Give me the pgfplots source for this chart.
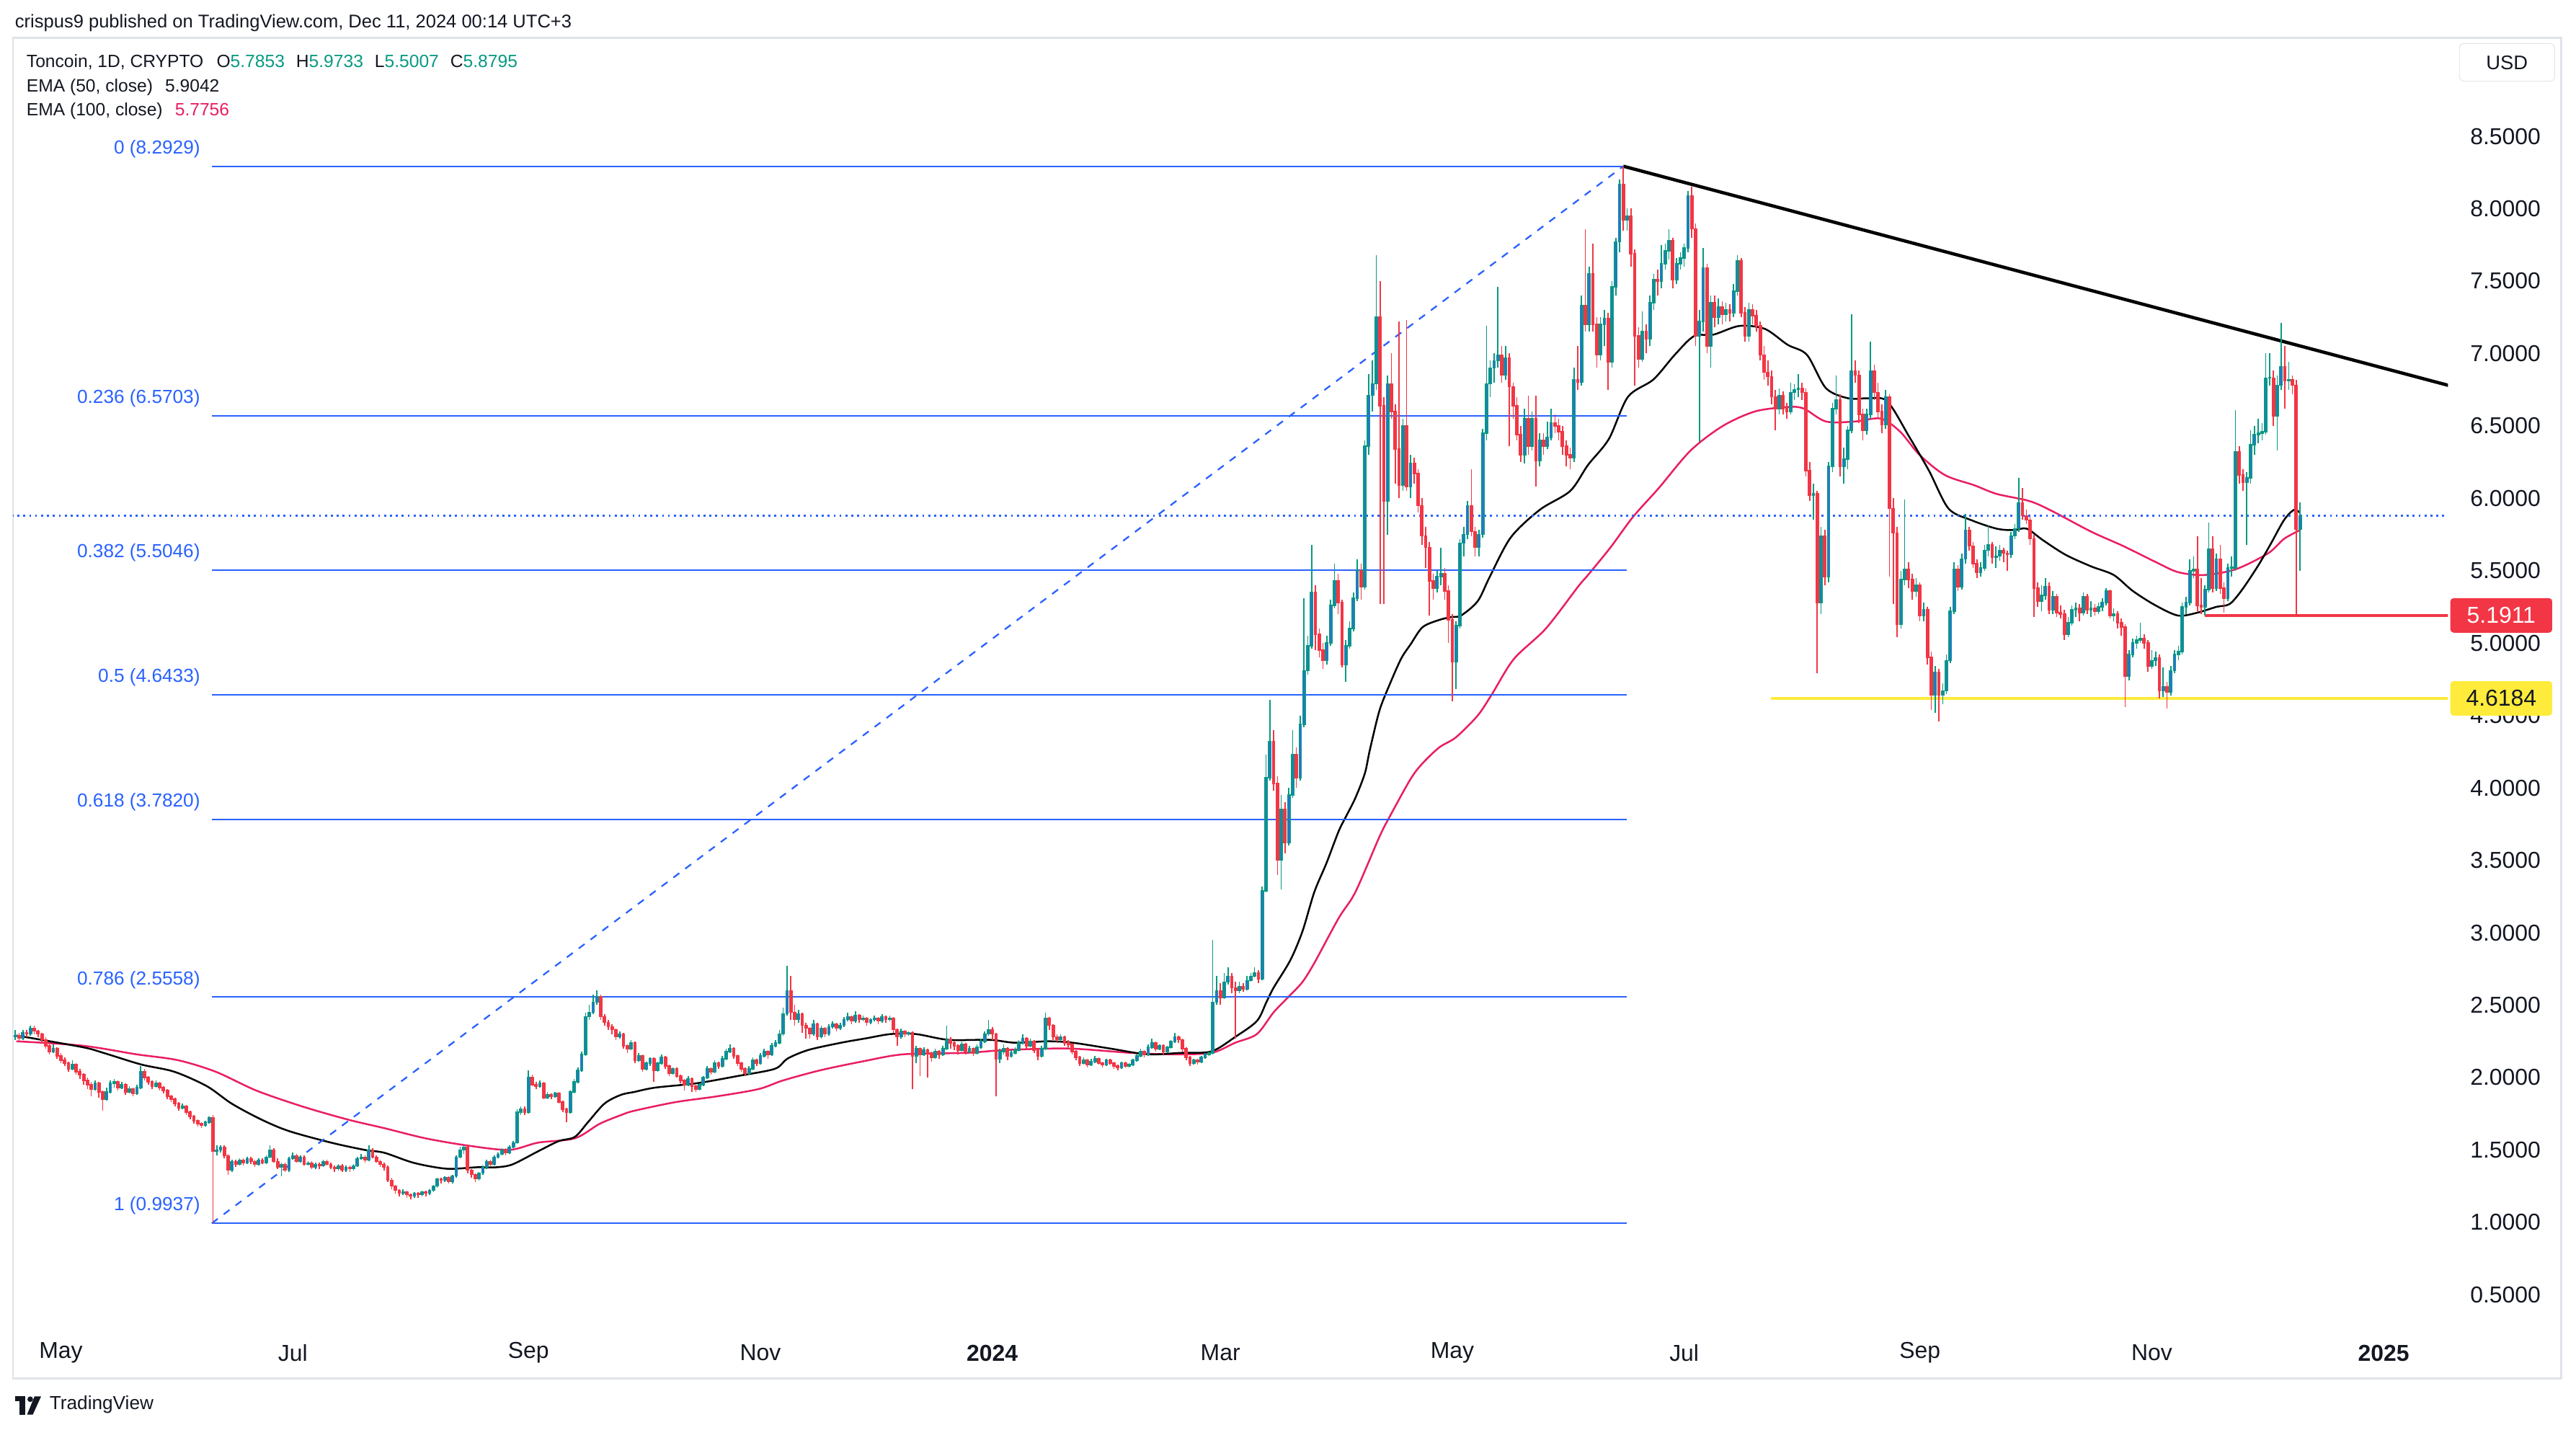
\documentclass[border=0pt]{standalone}
\usepackage{fontspec}
\setmainfont{Liberation Sans}
\usepackage{pgfplots}
\pgfplotsset{compat=1.18}
\usepackage{pgfplotstable}

\definecolor{tvup}{HTML}{089981}
\definecolor{tvupbody}{HTML}{2A6FDB}
\definecolor{tvdown}{HTML}{F23645}
\definecolor{tvblue}{HTML}{2962FF}
\definecolor{ema100}{HTML}{E91E63}
\definecolor{tvtext}{HTML}{131722}
\definecolor{tvframe}{HTML}{E0E3EB}
\definecolor{tvyellow}{HTML}{FFEB3B}

% one candle drawn at its low; 88.143pt = one price unit on this axis
\pgfdeclareplotmark{candle}{%
  \pgfmathsetmacro\cwk{(\kh-\kl)*88.143}%
  \pgfmathsetmacro\cbb{(min(\ko,\kc)-\kl)*88.143}%
  \pgfmathsetmacro\cbh{max(abs(\kc-\ko)*88.143,0.5)}%
  \pgfpathmoveto{\pgfpoint{0pt}{0pt}}%
  \pgfpathlineto{\pgfpoint{0pt}{\cwk pt}}%
  \pgfusepathqstroke
  \pgfpathrectangle{\pgfpoint{-0.7pt}{\cbb pt}}{\pgfpoint{1.4pt}{\cbh pt}}%
  \pgfusepathqfillstroke
}
\pgfplotsset{candles/.style={only marks, mark=candle, forget plot,
  visualization depends on={\thisrow{o} \as \ko},
  visualization depends on={\thisrow{h} \as \kh},
  visualization depends on={\thisrow{l} \as \kl},
  visualization depends on={\thisrow{c} \as \kc}}}

% daily candles, d = days since 2024-01-01
\pgfplotstableread{
d o h l c
-257 2.28 2.33 2.26 2.29
-256 2.29 2.31 2.25 2.27
-255 2.27 2.33 2.26 2.31
-254 2.31 2.33 2.28 2.30
-253 2.30 2.36 2.29 2.34
-252 2.34 2.36 2.30 2.32
-251 2.32 2.33 2.28 2.30
-250 2.30 2.31 2.24 2.26
-249 2.26 2.28 2.20 2.22
-248 2.22 2.24 2.16 2.18
-247 2.18 2.23 2.17 2.20
-246 2.20 2.21 2.13 2.15
-245 2.15 2.17 2.10 2.12
-244 2.12 2.14 2.08 2.10
-243 2.10 2.11 2.04 2.06
-242 2.06 2.12 2.05 2.09
-241 2.09 2.10 2.02 2.04
-240 2.04 2.06 1.99 2.02
-239 2.02 2.03 1.95 1.98
-238 1.98 2.00 1.92 1.95
-237 1.95 1.97 1.87 1.92
-236 1.92 1.98 1.91 1.96
-235 1.96 1.97 1.86 1.90
-234 1.90 1.91 1.77 1.85
-233 1.85 1.93 1.84 1.90
-232 1.90 1.98 1.89 1.96
-231 1.96 1.99 1.93 1.97
-230 1.97 1.98 1.91 1.93
-229 1.93 1.97 1.92 1.95
-228 1.95 1.96 1.88 1.90
-227 1.90 1.94 1.89 1.92
-226 1.92 1.93 1.87 1.89
-225 1.89 1.95 1.88 1.93
-224 1.93 2.08 1.92 2.04
-223 2.04 2.06 1.98 2.00
-222 2.00 2.01 1.95 1.97
-221 1.97 1.98 1.92 1.94
-220 1.94 1.98 1.93 1.96
-219 1.96 1.97 1.91 1.93
-218 1.93 1.94 1.89 1.91
-217 1.91 1.92 1.85 1.87
-216 1.87 1.88 1.83 1.85
-215 1.85 1.86 1.80 1.82
-214 1.82 1.83 1.77 1.79
-213 1.79 1.82 1.78 1.80
-212 1.80 1.81 1.74 1.76
-211 1.76 1.77 1.71 1.73
-210 1.73 1.74 1.68 1.70
-209 1.70 1.71 1.66 1.68
-208 1.68 1.69 1.65 1.67
-207 1.67 1.70 1.66 1.69
-206 1.69 1.73 1.68 1.72
-205 1.72 1.74 0.9937 1.49
-204 1.49 1.53 1.46 1.50
-203 1.50 1.53 1.48 1.52
-202 1.52 1.53 1.44 1.46
-201 1.46 1.47 1.33 1.36
-200 1.36 1.43 1.35 1.42
-199 1.42 1.43 1.38 1.40
-198 1.40 1.44 1.39 1.43
-197 1.43 1.44 1.39 1.41
-196 1.41 1.45 1.40 1.44
-195 1.44 1.45 1.40 1.42
-194 1.42 1.43 1.38 1.40
-193 1.40 1.44 1.39 1.43
-192 1.43 1.44 1.40 1.41
-191 1.41 1.46 1.40 1.45
-190 1.45 1.53 1.44 1.50
-189 1.50 1.51 1.41 1.42
-188 1.42 1.44 1.37 1.38
-187 1.38 1.41 1.32 1.40
-186 1.40 1.41 1.35 1.36
-185 1.36 1.45 1.35 1.44
-184 1.44 1.48 1.43 1.46
-183 1.46 1.47 1.41 1.42
-182 1.42 1.46 1.41 1.45
-181 1.45 1.46 1.39 1.40
-180 1.40 1.42 1.39 1.41
-179 1.41 1.42 1.37 1.38
-178 1.38 1.41 1.37 1.40
-177 1.40 1.41 1.37 1.39
-176 1.39 1.43 1.38 1.42
-175 1.42 1.43 1.39 1.40
-174 1.40 1.41 1.37 1.38
-173 1.38 1.39 1.35 1.37
-172 1.37 1.40 1.36 1.39
-171 1.39 1.40 1.35 1.36
-170 1.36 1.39 1.35 1.38
-169 1.38 1.39 1.35 1.37
-168 1.37 1.40 1.36 1.39
-167 1.39 1.45 1.38 1.44
-166 1.44 1.47 1.43 1.45
-165 1.45 1.46 1.41 1.43
-164 1.43 1.53 1.42 1.50
-163 1.50 1.51 1.44 1.45
-162 1.45 1.46 1.41 1.42
-161 1.42 1.43 1.38 1.40
-160 1.40 1.41 1.36 1.38
-159 1.38 1.39 1.28 1.29
-158 1.29 1.31 1.23 1.25
-157 1.25 1.26 1.20 1.22
-156 1.22 1.23 1.18 1.20
-155 1.20 1.23 1.19 1.21
-154 1.21 1.22 1.17 1.19
-153 1.19 1.20 1.16 1.18
-152 1.18 1.21 1.17 1.20
-151 1.20 1.21 1.17 1.19
-150 1.19 1.22 1.18 1.21
-149 1.21 1.22 1.18 1.20
-148 1.20 1.23 1.19 1.22
-147 1.22 1.26 1.21 1.25
-146 1.25 1.31 1.24 1.30
-145 1.30 1.31 1.27 1.29
-144 1.29 1.32 1.28 1.31
-143 1.31 1.32 1.27 1.28
-142 1.28 1.33 1.27 1.32
-141 1.32 1.46 1.31 1.45
-140 1.45 1.52 1.44 1.50
-139 1.50 1.53 1.47 1.52
-138 1.52 1.53 1.34 1.36
-137 1.36 1.37 1.31 1.33
-136 1.33 1.34 1.28 1.30
-135 1.30 1.35 1.29 1.34
-134 1.34 1.39 1.33 1.38
-133 1.38 1.43 1.37 1.42
-132 1.42 1.43 1.38 1.40
-131 1.40 1.46 1.39 1.45
-130 1.45 1.48 1.44 1.47
-129 1.47 1.51 1.46 1.50
-128 1.50 1.51 1.46 1.48
-127 1.48 1.53 1.47 1.52
-126 1.52 1.56 1.51 1.55
-125 1.55 1.78 1.54 1.76
-124 1.76 1.80 1.74 1.78
-123 1.78 1.80 1.74 1.76
-122 1.76 2.05 1.75 2.00
-121 2.00 2.02 1.94 1.95
-120 1.95 1.97 1.92 1.94
-119 1.94 1.98 1.93 1.96
-118 1.96 1.97 1.85 1.86
-117 1.86 1.90 1.85 1.88
-116 1.88 1.89 1.85 1.87
-115 1.87 1.90 1.86 1.89
-114 1.89 1.90 1.82 1.83
-113 1.83 1.84 1.76 1.78
-112 1.78 1.79 1.69 1.76
-111 1.76 1.91 1.75 1.90
-110 1.90 1.99 1.89 1.97
-109 1.97 2.07 1.96 2.05
-108 2.05 2.18 2.04 2.16
-107 2.16 2.45 2.15 2.42
-106 2.42 2.50 2.40 2.45
-105 2.45 2.57 2.44 2.52
-104 2.52 2.60 2.50 2.56
-103 2.56 2.57 2.40 2.42
-102 2.42 2.44 2.36 2.38
-101 2.38 2.40 2.33 2.35
-100 2.35 2.37 2.30 2.33
-99 2.33 2.34 2.26 2.28
-98 2.28 2.32 2.27 2.30
-97 2.30 2.31 2.20 2.22
-96 2.22 2.23 2.17 2.20
-95 2.20 2.26 2.19 2.24
-94 2.24 2.25 2.10 2.12
-93 2.12 2.17 2.11 2.15
-92 2.15 2.16 2.04 2.06
-91 2.06 2.11 2.05 2.10
-90 2.10 2.14 2.08 2.13
-89 2.13 2.14 1.97 2.05
-88 2.05 2.11 2.04 2.10
-87 2.10 2.16 2.09 2.14
-86 2.14 2.15 2.06 2.08
-85 2.08 2.09 2.01 2.03
-84 2.03 2.07 2.02 2.06
-83 2.06 2.07 2.00 2.01
-82 2.01 2.02 1.96 1.98
-81 1.98 1.99 1.91 1.95
-80 1.95 2.01 1.94 1.99
-79 1.99 2.00 1.90 1.94
-78 1.94 1.95 1.90 1.92
-77 1.92 1.96 1.91 1.95
-76 1.95 2.01 1.94 2.00
-75 2.00 2.08 1.99 2.06
-74 2.06 2.07 2.02 2.04
-73 2.04 2.12 2.03 2.10
-72 2.10 2.11 2.06 2.08
-71 2.08 2.15 2.07 2.13
-70 2.13 2.20 2.12 2.18
-69 2.18 2.23 2.17 2.20
-68 2.20 2.21 2.13 2.15
-67 2.15 2.16 2.08 2.10
-66 2.10 2.11 2.04 2.06
-65 2.06 2.07 2.01 2.03
-64 2.03 2.08 2.02 2.06
-63 2.06 2.14 2.05 2.12
-62 2.12 2.13 2.08 2.10
-61 2.10 2.17 2.09 2.15
-60 2.15 2.20 2.14 2.18
-59 2.18 2.19 2.13 2.16
-58 2.16 2.24 2.15 2.22
-57 2.22 2.26 2.21 2.24
-56 2.24 2.33 2.23 2.30
-55 2.30 2.48 2.29 2.44
-54 2.44 2.77 2.43 2.60
-53 2.60 2.70 2.40 2.45
-52 2.45 2.50 2.36 2.40
-51 2.40 2.47 2.38 2.44
-50 2.44 2.45 2.31 2.36
-49 2.36 2.38 2.27 2.34
-48 2.34 2.35 2.27 2.30
-47 2.30 2.40 2.29 2.37
-46 2.37 2.38 2.26 2.28
-45 2.28 2.36 2.27 2.34
-44 2.34 2.35 2.28 2.30
-43 2.30 2.37 2.29 2.35
-42 2.35 2.39 2.34 2.37
-41 2.37 2.38 2.32 2.34
-40 2.34 2.38 2.33 2.36
-39 2.36 2.42 2.35 2.40
-38 2.40 2.45 2.39 2.42
-37 2.42 2.43 2.37 2.39
-36 2.39 2.46 2.38 2.43
-35 2.43 2.44 2.38 2.40
-34 2.40 2.43 2.39 2.41
-33 2.41 2.42 2.36 2.38
-32 2.38 2.41 2.37 2.40
-31 2.40 2.43 2.39 2.41
-30 2.41 2.42 2.37 2.39
-29 2.39 2.44 2.38 2.42
-28 2.42 2.43 2.38 2.40
-27 2.40 2.43 2.39 2.41
-26 2.41 2.42 2.31 2.33
-25 2.33 2.34 2.22 2.28
-24 2.28 2.34 2.27 2.32
-23 2.32 2.33 2.28 2.30
-22 2.30 2.32 2.29 2.31
-21 2.31 2.32 1.92 2.15
-20 2.15 2.22 2.10 2.20
-19 2.20 2.21 2.01 2.16
-18 2.16 2.21 2.15 2.19
-17 2.19 2.20 2.00 2.17
-16 2.17 2.18 2.11 2.14
-15 2.14 2.20 2.13 2.18
-14 2.18 2.19 2.13 2.16
-13 2.16 2.22 2.15 2.20
-12 2.20 2.36 2.19 2.26
-11 2.26 2.28 2.20 2.24
-10 2.24 2.25 2.19 2.22
-9 2.22 2.23 2.16 2.19
-8 2.19 2.25 2.18 2.23
-7 2.23 2.24 2.16 2.18
-6 2.18 2.22 2.17 2.20
-5 2.20 2.21 2.15 2.17
-4 2.17 2.23 2.16 2.21
-3 2.21 2.27 2.20 2.25
-2 2.25 2.32 2.24 2.30
-1 2.30 2.40 2.29 2.33
0 2.33 2.35 2.26 2.30
1 2.30 2.31 1.87 2.13
2 2.13 2.20 2.10 2.18
3 2.18 2.23 2.16 2.20
4 2.20 2.21 2.12 2.15
5 2.15 2.19 2.14 2.17
6 2.17 2.21 2.16 2.19
7 2.19 2.26 2.18 2.24
8 2.24 2.30 2.23 2.27
9 2.27 2.28 2.20 2.22
10 2.22 2.27 2.21 2.25
11 2.25 2.26 2.17 2.19
12 2.19 2.20 2.12 2.15
13 2.15 2.22 2.14 2.20
14 2.20 2.45 2.19 2.41
15 2.41 2.42 2.33 2.36
16 2.36 2.37 2.26 2.28
17 2.28 2.30 2.24 2.26
18 2.26 2.30 2.25 2.28
19 2.28 2.29 2.22 2.24
20 2.24 2.26 2.21 2.23
21 2.23 2.24 2.16 2.18
22 2.18 2.19 2.12 2.14
23 2.14 2.15 2.08 2.10
24 2.10 2.14 2.09 2.12
25 2.12 2.13 2.07 2.09
26 2.09 2.13 2.08 2.11
27 2.11 2.15 2.10 2.13
28 2.13 2.14 2.09 2.10
29 2.10 2.11 2.07 2.09
30 2.09 2.13 2.08 2.12
31 2.12 2.13 2.09 2.10
32 2.10 2.11 2.06 2.08
33 2.08 2.09 2.05 2.07
34 2.07 2.11 2.06 2.10
35 2.10 2.11 2.07 2.08
36 2.08 2.10 2.07 2.09
37 2.09 2.13 2.08 2.12
38 2.12 2.16 2.11 2.15
39 2.15 2.20 2.14 2.18
40 2.18 2.19 2.14 2.16
41 2.16 2.23 2.15 2.21
42 2.21 2.27 2.20 2.24
43 2.24 2.25 2.18 2.20
44 2.20 2.23 2.19 2.22
45 2.22 2.23 2.16 2.18
46 2.18 2.22 2.17 2.21
47 2.21 2.26 2.20 2.25
48 2.25 2.31 2.24 2.28
49 2.28 2.29 2.24 2.26
50 2.26 2.27 2.18 2.20
51 2.20 2.21 2.12 2.14
52 2.14 2.15 2.08 2.10
53 2.10 2.13 2.09 2.12
54 2.12 2.13 2.09 2.11
55 2.11 2.15 2.10 2.14
56 2.14 2.17 2.13 2.16
57 2.16 2.18 2.15 2.17
58 2.17 2.95 2.16 2.52
59 2.52 2.70 2.50 2.60
60 2.60 2.65 2.50 2.55
61 2.55 2.72 2.54 2.66
62 2.66 2.76 2.64 2.70
63 2.70 2.72 2.58 2.62
64 2.62 2.66 2.27 2.60
65 2.60 2.66 2.58 2.63
66 2.63 2.65 2.59 2.61
67 2.61 2.70 2.60 2.67
68 2.67 2.72 2.66 2.70
69 2.70 2.76 2.69 2.72
70 2.72 2.74 2.65 2.68
71 2.68 3.32 2.67 3.29
72 3.29 4.23 3.28 4.07
73 4.07 4.61 4.05 4.32
74 4.32 4.40 3.98 4.03
75 4.03 4.08 3.40 3.50
76 3.50 3.95 3.30 3.85
77 3.85 3.90 3.55 3.62
78 3.62 4.00 3.60 3.95
79 3.95 4.40 3.93 4.23
80 4.23 4.28 4.00 4.07
81 4.07 4.50 4.05 4.44
82 4.44 5.31 4.42 4.81
83 4.81 5.05 4.78 4.98
84 4.98 5.68 4.96 5.35
85 5.35 5.40 4.95 5.06
86 5.06 5.10 4.90 4.95
87 4.95 5.00 4.82 4.88
88 4.88 5.05 4.85 5.00
89 5.00 5.30 4.98 5.26
90 5.26 5.55 5.24 5.43
91 5.43 5.48 5.20 5.28
92 5.28 5.30 4.83 4.85
93 4.85 5.02 4.73 4.98
94 4.98 5.15 4.96 5.10
95 5.10 5.35 5.08 5.31
96 5.31 5.58 5.29 5.50
97 5.50 5.55 5.30 5.39
98 5.39 6.40 5.37 6.36
99 6.36 6.86 6.30 6.71
100 6.71 6.95 6.60 6.79
101 6.79 7.68 6.75 7.25
102 7.25 7.50 5.27 6.64
103 6.64 6.70 5.27 5.98
104 5.98 6.85 5.75 6.79
105 6.79 7.00 6.55 6.60
106 6.60 6.65 6.10 6.34
107 6.34 7.22 6.00 6.09
108 6.09 6.55 6.05 6.50
109 6.50 7.23 6.05 6.08
110 6.08 6.30 6.00 6.24
111 6.24 6.28 6.10 6.17
112 6.17 6.20 5.90 5.95
113 5.95 6.00 5.68 5.74
114 5.74 5.80 5.52 5.66
115 5.66 5.70 5.19 5.43
116 5.43 5.48 5.30 5.38
117 5.38 5.50 5.35 5.46
118 5.46 5.66 5.40 5.48
119 5.48 5.52 5.30 5.36
120 5.36 5.40 5.00 5.16
121 5.16 5.20 4.60 4.87
122 4.87 5.15 4.68 5.12
123 5.12 5.72 5.10 5.69
124 5.69 5.80 5.60 5.75
125 5.75 5.98 5.72 5.95
126 5.95 6.20 5.74 5.77
127 5.77 5.80 5.60 5.66
128 5.66 5.78 5.60 5.75
129 5.75 6.48 5.73 6.45
130 6.45 7.19 6.40 6.79
131 6.79 6.95 6.70 6.90
132 6.90 7.00 6.80 6.95
133 6.95 7.46 6.90 6.99
134 6.99 7.05 6.80 6.85
135 6.85 7.05 6.82 6.97
136 6.97 7.00 6.36 6.77
137 6.77 6.80 6.55 6.64
138 6.64 6.70 6.40 6.44
139 6.44 6.50 6.25 6.30
140 6.30 6.62 6.24 6.55
141 6.55 6.71 6.30 6.36
142 6.36 6.60 6.33 6.55
143 6.55 6.71 6.08 6.26
144 6.26 6.45 6.22 6.40
145 6.40 6.45 6.30 6.36
146 6.36 6.53 6.34 6.42
147 6.42 6.62 6.40 6.52
148 6.52 6.58 6.45 6.50
149 6.50 6.55 6.40 6.46
150 6.46 6.50 6.30 6.36
151 6.36 6.40 6.22 6.30
152 6.30 6.35 6.20 6.28
153 6.28 6.90 6.25 6.82
154 6.82 7.05 6.75 6.80
155 6.80 7.40 6.78 7.33
156 7.33 7.86 7.15 7.20
157 7.20 7.60 7.15 7.55
158 7.55 7.76 7.15 7.20
159 7.20 7.25 6.90 6.99
160 6.99 7.25 6.95 7.20
161 7.20 7.30 7.05 7.24
162 7.24 7.28 6.75 6.94
163 6.94 7.50 6.90 7.46
164 7.46 7.80 7.40 7.77
165 7.77 8.20 7.70 8.17
166 8.17 8.2929 7.85 7.92
167 7.92 8.00 7.85 7.95
168 7.95 8.00 7.60 7.69
169 7.69 7.72 6.78 7.12
170 7.12 7.18 6.90 6.96
171 6.96 7.29 6.94 7.15
172 7.15 7.20 7.00 7.10
173 7.10 7.40 7.05 7.35
174 7.35 7.55 7.30 7.51
175 7.51 7.58 7.40 7.50
176 7.50 7.75 7.45 7.62
177 7.62 7.76 7.58 7.71
178 7.71 7.86 7.65 7.78
179 7.78 7.80 7.45 7.51
180 7.51 7.66 7.48 7.62
181 7.62 7.70 7.58 7.66
182 7.66 7.76 7.60 7.73
183 7.73 8.12 7.70 8.09
184 8.09 8.15 7.80 7.86
185 7.86 7.90 7.05 7.12
186 7.12 7.30 6.39 7.22
187 7.22 7.73 7.15 7.59
188 7.59 7.62 7.00 7.05
189 7.05 7.40 6.90 7.35
190 7.35 7.40 7.18 7.25
191 7.25 7.38 7.20 7.32
192 7.32 7.36 7.20 7.27
193 7.27 7.35 7.22 7.30
194 7.30 7.34 7.22 7.28
195 7.28 7.48 7.25 7.43
196 7.43 7.68 7.40 7.64
197 7.64 7.66 7.25 7.28
198 7.28 7.32 7.08 7.12
199 7.12 7.35 7.08 7.30
200 7.30 7.34 7.20 7.26
201 7.26 7.30 7.15 7.19
202 7.19 7.22 6.95 6.99
203 6.99 7.05 6.82 6.87
204 6.87 6.95 6.78 6.84
205 6.84 6.88 6.65 6.70
206 6.70 6.75 6.47 6.62
207 6.62 6.76 6.58 6.71
208 6.71 6.74 6.58 6.62
209 6.62 6.66 6.55 6.60
210 6.60 6.80 6.58 6.73
211 6.73 6.79 6.68 6.75
212 6.75 6.86 6.70 6.76
213 6.76 6.80 6.68 6.73
214 6.73 6.76 6.15 6.19
215 6.19 6.25 5.98 6.02
216 6.02 6.10 5.85 6.03
217 6.03 6.05 4.79 5.28
218 5.28 5.80 5.20 5.74
219 5.74 5.78 5.40 5.46
220 5.46 6.25 5.42 6.22
221 6.22 6.66 6.18 6.62
222 6.62 6.85 6.58 6.68
223 6.68 6.72 6.15 6.22
224 6.22 6.35 6.10 6.27
225 6.27 6.50 6.20 6.47
226 6.47 7.27 6.45 6.88
227 6.88 6.95 6.80 6.85
228 6.85 6.88 6.52 6.58
229 6.58 6.62 6.40 6.47
230 6.47 6.62 6.44 6.58
231 6.58 7.08 6.55 6.88
232 6.88 6.92 6.68 6.73
233 6.73 6.80 6.55 6.60
234 6.60 6.65 6.45 6.51
235 6.51 6.75 6.48 6.70
236 6.70 6.72 5.46 5.93
237 5.93 6.00 5.27 5.76
238 5.76 5.80 5.04 5.13
239 5.13 5.50 5.10 5.44
240 5.44 5.99 5.40 5.51
241 5.51 5.56 5.38 5.44
242 5.44 5.48 5.30 5.36
243 5.36 5.45 5.32 5.40
244 5.40 5.42 5.15 5.19
245 5.19 5.28 5.15 5.23
246 5.23 5.25 4.85 4.90
247 4.90 4.94 4.54 4.64
248 4.64 4.84 4.52 4.80
249 4.80 4.82 4.46 4.64
250 4.64 4.72 4.58 4.67
251 4.67 4.92 4.65 4.88
252 4.88 5.25 4.86 5.22
253 5.22 5.56 5.20 5.51
254 5.51 5.54 5.36 5.39
255 5.39 5.62 5.37 5.58
256 5.58 5.89 5.55 5.78
257 5.78 5.80 5.64 5.67
258 5.67 5.70 5.52 5.55
259 5.55 5.58 5.45 5.49
260 5.49 5.56 5.46 5.52
261 5.52 5.68 5.50 5.64
262 5.64 5.81 5.60 5.68
263 5.68 5.70 5.55 5.59
264 5.59 5.67 5.52 5.60
265 5.60 5.68 5.57 5.64
266 5.64 5.66 5.56 5.62
267 5.62 5.64 5.50 5.61
268 5.61 5.77 5.59 5.74
269 5.74 5.82 5.72 5.79
270 5.79 6.14 5.77 5.97
271 5.97 6.07 5.85 5.88
272 5.88 5.92 5.82 5.85
273 5.85 5.87 5.68 5.72
274 5.72 5.75 5.18 5.38
275 5.38 5.42 5.25 5.29
276 5.29 5.40 5.22 5.33
277 5.33 5.45 5.30 5.39
278 5.39 5.42 5.20 5.23
279 5.23 5.36 5.20 5.32
280 5.32 5.34 5.18 5.21
281 5.21 5.26 5.17 5.20
282 5.20 5.23 5.02 5.06
283 5.06 5.18 5.04 5.14
284 5.14 5.26 5.12 5.23
285 5.23 5.28 5.18 5.24
286 5.24 5.27 5.15 5.21
287 5.21 5.35 5.19 5.32
288 5.32 5.34 5.20 5.23
289 5.23 5.29 5.18 5.24
290 5.24 5.27 5.19 5.22
291 5.22 5.28 5.20 5.25
292 5.25 5.31 5.22 5.28
293 5.28 5.38 5.26 5.36
294 5.36 5.37 5.17 5.19
295 5.19 5.24 5.15 5.20
296 5.20 5.22 5.10 5.14
297 5.14 5.17 5.05 5.11
298 5.11 5.13 4.56 4.77
299 4.77 4.95 4.74 4.92
300 4.92 5.03 4.90 5.00
301 5.00 5.05 4.96 5.02
302 5.02 5.14 5.00 5.03
303 5.03 5.06 4.96 5.00
304 5.00 5.02 4.80 4.84
305 4.84 4.95 4.82 4.88
306 4.88 4.94 4.84 4.90
307 4.90 4.92 4.62 4.67
308 4.67 4.83 4.63 4.70
309 4.70 4.73 4.55 4.66
310 4.66 4.84 4.64 4.81
311 4.81 4.95 4.79 4.92
312 4.92 4.98 4.88 4.94
313 4.94 5.28 4.92 5.25
314 5.25 5.32 5.20 5.28
315 5.28 5.58 5.26 5.50
316 5.50 5.60 5.45 5.51
317 5.51 5.74 5.22 5.26
318 5.26 5.45 5.20 5.25
319 5.25 5.40 5.19 5.37
320 5.37 5.83 5.35 5.65
321 5.65 5.74 5.35 5.38
322 5.38 5.62 5.36 5.58
323 5.58 5.68 5.34 5.38
324 5.38 5.42 5.21 5.31
325 5.31 5.55 5.29 5.52
326 5.52 5.60 5.46 5.52
327 5.52 6.61 5.50 6.32
328 6.32 6.36 6.10 6.16
329 6.16 6.20 6.05 6.11
330 6.11 6.18 5.68 6.14
331 6.14 6.47 6.10 6.37
332 6.37 6.50 6.30 6.44
333 6.44 6.55 6.38 6.45
334 6.45 6.52 6.40 6.46
335 6.46 7.00 6.44 6.83
336 6.83 7.00 6.78 6.83
337 6.83 6.88 6.50 6.57
338 6.57 6.85 6.33 6.78
339 6.78 7.21 6.75 6.91
340 6.91 7.05 6.62 6.81
341 6.81 6.94 6.75 6.82
342 6.82 6.85 6.72 6.78
343 6.78 6.82 5.1911 5.7853
344 5.7853 5.9733 5.5007 5.8795
}\candles

\begin{document}
\begin{tikzpicture}
\path[use as bounding box, fill=white] (0pt,0pt) rectangle (1568pt,870pt);
\draw[tvframe, line width=1pt] (8pt,31pt) rectangle (1559pt,847pt);

\begin{axis}[
  at={(8pt,62pt)}, anchor=south west,
  width=1482pt, height=785pt, scale only axis,
  xmin=-257.56, xmax=382.9, ymin=0.274, ymax=9.18,
  axis line style={draw=none}, major tick length=0pt,
  xtick={-245,-184,-122,-61,0,60,121,182,244,305,366},
  xticklabels={May,Jul,Sep,Nov,\textbf{2024},Mar,May,Jul,Sep,Nov,\textbf{2025}},
  ytick={0.5,1,1.5,2,2.5,3,3.5,4,4.5,5,5.5,6,6.5,7,7.5,8,8.5},
  yticklabel pos=right,
  /pgf/number format/assume math mode=true,
  yticklabel={\pgfmathprintnumber[fixed,fixed zerofill,precision=4]{\tick}},
  tick label style={font=\fontsize{14}{16}\selectfont, text=tvtext},
  x tick label style={anchor=center, yshift=-15.5pt},
  y tick label style={anchor=center, xshift=35pt},
]
% up candles
\addplot[candles, mark options={draw=tvup, fill=tvupbody, line width=0.7pt}]
  table[x=d, y expr={\thisrow{c}<\thisrow{o} ? nan : \thisrow{l}}] {\candles};
% down candles
\addplot[candles, mark options={draw=tvdown, fill=tvdown, line width=0.7pt}]
  table[x=d, y expr={\thisrow{c}<\thisrow{o} ? \thisrow{l} : nan}] {\candles};

% EMA 100
\addplot[ema100, line width=1.1pt, smooth, mark=none] coordinates {
(-256.7,2.25) (-239.4,2.22) (-225.1,2.16) (-214.3,2.12) (-204.3,2.04) (-193.6,1.91)
(-181.5,1.80) (-169.6,1.71) (-159.9,1.65) (-149.1,1.58) (-138,1.53) (-127.1,1.50)
(-119.5,1.55) (-109.8,1.58) (-103.3,1.68) (-97.7,1.74) (-94.2,1.77) (-83.3,1.83)
(-72.4,1.87) (-61.5,1.92) (-55,1.98) (-45.2,2.05) (-34.3,2.11) (-23.4,2.16)
(-7.1,2.17) (3.8,2.19) (20.1,2.20) (36.5,2.17) (47.4,2.16) (57.6,2.17) (63.9,2.24)
(69.6,2.30) (74,2.45) (78.4,2.57) (81.6,2.66) (84.7,2.79) (91.1,3.10) (95.5,3.28)
(101.8,3.66) (104.3,3.79) (110,4.06) (113.2,4.17) (117.6,4.28) (122,4.35)
(127.7,4.50) (131.5,4.65) (137.2,4.89) (145.6,5.10) (154.1,5.39) (156.7,5.47)
(162.6,5.66) (168.5,5.87) (175.3,6.07) (183.7,6.33) (192.2,6.50) (200.7,6.60)
(209.2,6.63) (213.4,6.62) (219.3,6.53) (226.9,6.53) (233.7,6.55) (238.8,6.46)
(243.9,6.30) (250.6,6.16) (258.3,6.09) (264.2,6.03) (272.9,5.98) (278.9,5.91)
(289,5.77) (297.5,5.67) (306,5.56) (311.9,5.49) (318.7,5.47) (327.1,5.51)
(335.6,5.62) (339.8,5.72) (344,5.78)};
% EMA 50
\addplot[black, line width=1.1pt, smooth, mark=none] coordinates {
(-256.7,2.29) (-239.4,2.21) (-233.8,2.17) (-223.9,2.09) (-215.2,2.04) (-206.6,1.94)
(-200.1,1.82) (-192.3,1.71) (-185,1.63) (-173.9,1.55) (-165.1,1.50) (-159.9,1.48)
(-152.1,1.41) (-143.5,1.37) (-135.7,1.38) (-130.5,1.38) (-126.2,1.40) (-119.5,1.49)
(-114.1,1.56) (-109.8,1.59) (-106.4,1.69) (-102,1.82) (-97.7,1.88) (-94.2,1.90)
(-88.7,1.93) (-77.8,1.96) (-67,2.01) (-57.2,2.06) (-53.9,2.13) (-48.4,2.19)
(-39.8,2.24) (-33.3,2.27) (-26.7,2.30) (-20.1,2.30) (-11.5,2.26) (-0.6,2.26)
(6,2.24) (14.7,2.25) (21.2,2.24) (31,2.20) (40.8,2.16) (49.5,2.17) (57.6,2.18)
(63.9,2.28) (69.6,2.39) (72.1,2.52) (74,2.62) (78.4,2.81) (81.6,3.01) (84.7,3.28)
(87.9,3.48) (91.1,3.70) (93,3.80) (95.5,3.93) (98,4.10) (99.3,4.26) (101.8,4.53)
(104.3,4.70) (107.5,4.89) (110,4.99) (113.2,5.11) (117.6,5.16) (120.8,5.18)
(123.3,5.19) (127.7,5.29) (130.9,5.46) (136.4,5.73) (144,5.92) (152,6.05)
(156.7,6.23) (162.2,6.41)
(167.2,6.70) (173.9,6.82) (179.5,6.99) (184.6,7.12) (189.7,7.13) (196.5,7.19)
(203.2,7.17) (209.2,7.06) (214.3,6.99) (219.3,6.76) (225.2,6.69) (230.3,6.69)
(235.4,6.67) (241.3,6.42) (246.4,6.19) (251.5,5.93) (257.4,5.85) (264.2,5.79)
(268.7,5.78) (272.1,5.79) (276.4,5.71) (282.3,5.61) (289,5.53) (295,5.47)
(300,5.36) (306,5.26) (311.9,5.19) (317,5.21) (322,5.25) (325.5,5.27)
(328.8,5.37) (333.1,5.54) (336.4,5.69) (339.8,5.85) (342.4,5.92) (344,5.90)};

% current price line
\addplot[tvblue, line width=1pt, dash pattern=on 1.2pt off 2.4pt] coordinates {(-258,5.8795) (383,5.8795)};
% fibonacci retracement
\addplot[tvblue, line width=1pt, dash pattern=on 4.5pt off 4.5pt] coordinates {(-205.3,0.9937) (166,8.2929)};
\addplot[tvblue, line width=0.9pt] coordinates {(-205.3,8.2929) (166.8,8.2929)};
\addplot[tvblue, line width=0.9pt] coordinates {(-205.3,6.5703) (166.8,6.5703)};
\addplot[tvblue, line width=0.9pt] coordinates {(-205.3,5.5046) (166.8,5.5046)};
\addplot[tvblue, line width=0.9pt] coordinates {(-205.3,4.6433) (166.8,4.6433)};
\addplot[tvblue, line width=0.9pt] coordinates {(-205.3,3.7820) (166.8,3.7820)};
\addplot[tvblue, line width=0.9pt] coordinates {(-205.3,2.5558) (166.8,2.5558)};
\addplot[tvblue, line width=0.9pt] coordinates {(-205.3,0.9937) (166.8,0.9937)};
\begin{scope}[every node/.style={anchor=east, inner sep=0pt, text=tvblue, font=\fontsize{11.5}{13}\selectfont, yshift=10.5pt}]
\node at (axis cs:-208.3,8.2929) {0 (8.2929)};
\node at (axis cs:-208.3,6.5703) {0.236 (6.5703)};
\node at (axis cs:-208.3,5.5046) {0.382 (5.5046)};
\node at (axis cs:-208.3,4.6433) {0.5 (4.6433)};
\node at (axis cs:-208.3,3.7820) {0.618 (3.7820)};
\node at (axis cs:-208.3,2.5558) {0.786 (2.5558)};
\node at (axis cs:-208.3,0.9937) {1 (0.9937)};
\end{scope}
% trend line and levels
\addplot[black, line width=2pt] coordinates {(166,8.2929) (383.7,6.775)};
\addplot[tvyellow, line width=2pt] coordinates {(204.9,4.6184) (383,4.6184)};
\addplot[tvdown, line width=2pt] coordinates {(318.9,5.1911) (383,5.1911)};
\end{axis}

% price labels on the scale
\node[fill=tvdown, text=white, minimum width=62pt, minimum height=21pt, inner sep=0pt,
  rounded corners=2pt, font=\fontsize{14}{16}\selectfont] at (1522.5pt,495.4pt) {5.1911};
\node[fill=tvyellow, text=tvtext, minimum width=62pt, minimum height=21pt, inner sep=0pt,
  rounded corners=2pt, font=\fontsize{14}{16}\selectfont] at (1522.5pt,444.9pt) {4.6184};
\node[draw=tvframe, text=tvtext, minimum width=58pt, minimum height=23pt, inner sep=0pt,
  rounded corners=3pt, font=\fontsize{12}{14}\selectfont] at (1526pt,832pt) {USD};

% header and legend
\node[anchor=west, inner sep=0pt, text=tvtext, font=\fontsize{11.2}{13}\selectfont] at (9pt,856pt)
  {crispus9 published on TradingView.com, Dec 11, 2024 00:14 UTC+3};
\begin{scope}[every node/.style={anchor=west, inner sep=0pt, text=tvtext, font=\fontsize{10.8}{13}\selectfont}]
\node at (16pt,832.3pt) {Toncoin, 1D, CRYPTO\hspace{8pt}O\textcolor{tvup}{5.7853}\hspace{7pt}H\textcolor{tvup}{5.9733}\hspace{7pt}L\textcolor{tvup}{5.5007}\hspace{7pt}C\textcolor{tvup}{5.8795}};
\node at (16pt,816.9pt) {EMA (50, close)\hspace{7.5pt}5.9042};
\node at (16pt,802.4pt) {EMA (100, close)\hspace{7.5pt}\textcolor{ema100}{5.7756}};
\end{scope}

% TradingView logo
\fill[tvtext] (9pt,20pt) rectangle (15.5pt,17pt);
\fill[tvtext] (12pt,20pt) rectangle (15.5pt,9pt);
\fill[tvtext] (18.4pt,18.3pt) circle (1.7pt);
\fill[tvtext] (21pt,20pt) -- (25pt,20pt) -- (20pt,9pt) -- (16.5pt,9pt) -- cycle;
\node[anchor=west, inner sep=0pt, text=tvtext, font=\fontsize{11.5}{14}\selectfont] at (30pt,15pt) {TradingView};
\end{tikzpicture}
\end{document}
